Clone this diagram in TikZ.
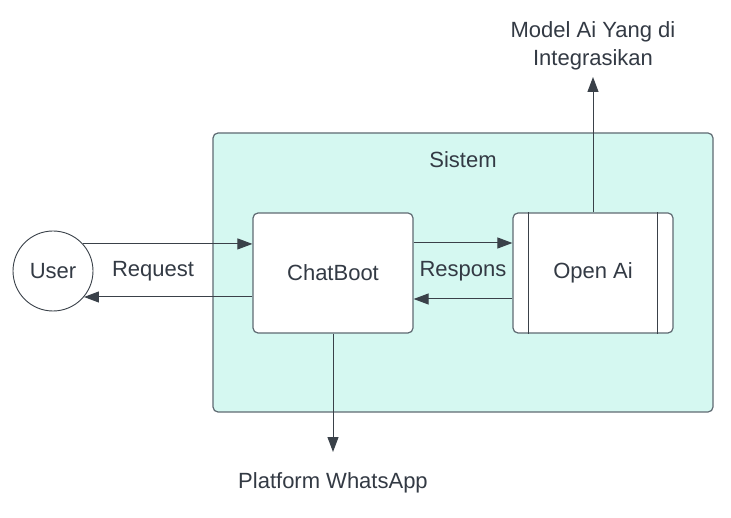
\documentclass[tikz,border=0pt]{standalone}
\usepackage{fontspec}
\setmainfont{Liberation Sans}
\usetikzlibrary{arrows.meta,calc}
\definecolor{sysfill}{HTML}{D5F8F1}
\definecolor{boxline}{HTML}{5F6A72}
\definecolor{arrline}{HTML}{3A4149}
\definecolor{txt}{HTML}{333A44}
\begin{document}
\begin{tikzpicture}[x=1pt,y=1pt,
  lbl/.style={text=txt,font=\fontsize{22}{28}\selectfont,inner sep=0pt,align=center},
  sysbox/.style={draw=boxline,line width=1.2pt,fill=sysfill,rounded corners=5pt},
  procbox/.style={draw=boxline,line width=1.2pt,fill=white,rounded corners=5pt,minimum width=160pt,minimum height=120pt,text=txt,font=\fontsize{22}{28}\selectfont},
  userc/.style={circle,draw=arrline,line width=0.9pt,fill=white,minimum size=80pt,inner sep=0pt,text=txt,font=\fontsize{22}{28}\selectfont},
  arr/.style={draw=arrline,line width=1pt,-{Triangle[length=15pt,width=11pt]},color=arrline},
  plain/.style={draw=arrline,line width=1pt}]
\useasboundingbox (0,0) rectangle (731,-518);
\fill[white] (0,0) rectangle (731,-518);
% system container
\draw[sysbox] (213,-133) rectangle (713,-412);
\node[lbl] (sistem) at (463,-160) {Sistem};
% nodes
\node[userc] (user) at (53,-271) {User};
\node[procbox] (chat) at (333,-273) {ChatBoot};
\node[procbox] (oai) at (593,-273) {Open Ai};
\draw[plain] ([xshift=16pt]oai.north west) -- ([xshift=16pt]oai.south west);
\draw[plain] ([xshift=-16pt]oai.north east) -- ([xshift=-16pt]oai.south east);
% labels
\node[lbl] (req) at (153,-271) {Request};
\node[lbl] (resp) at (463,-271) {Respons};
\node[lbl] (model) at (593,-46) {Model Ai Yang di\\Integrasikan};
\node[lbl] (wa) at (333,-483) {Platform WhatsApp};
% connectors
\draw[arr] (user.42.5) -- (user.42.5 -| chat.west);
\draw[arr] (user.-40.5 -| chat.west) -- (user.-40.5);
\draw[arr] ([yshift=30pt]chat.east) -- ([yshift=30pt]chat.east -| oai.west);
\draw[arr] ([yshift=-26pt]oai.west) -- ([yshift=-26pt]oai.west -| chat.east);
\coordinate (topend) at (593,-77);
\coordinate (botend) at (333,-452);
\draw[arr] (oai.north) -- (topend);
\draw[arr] (chat.south) -- (botend);
\end{tikzpicture}
\end{document}
